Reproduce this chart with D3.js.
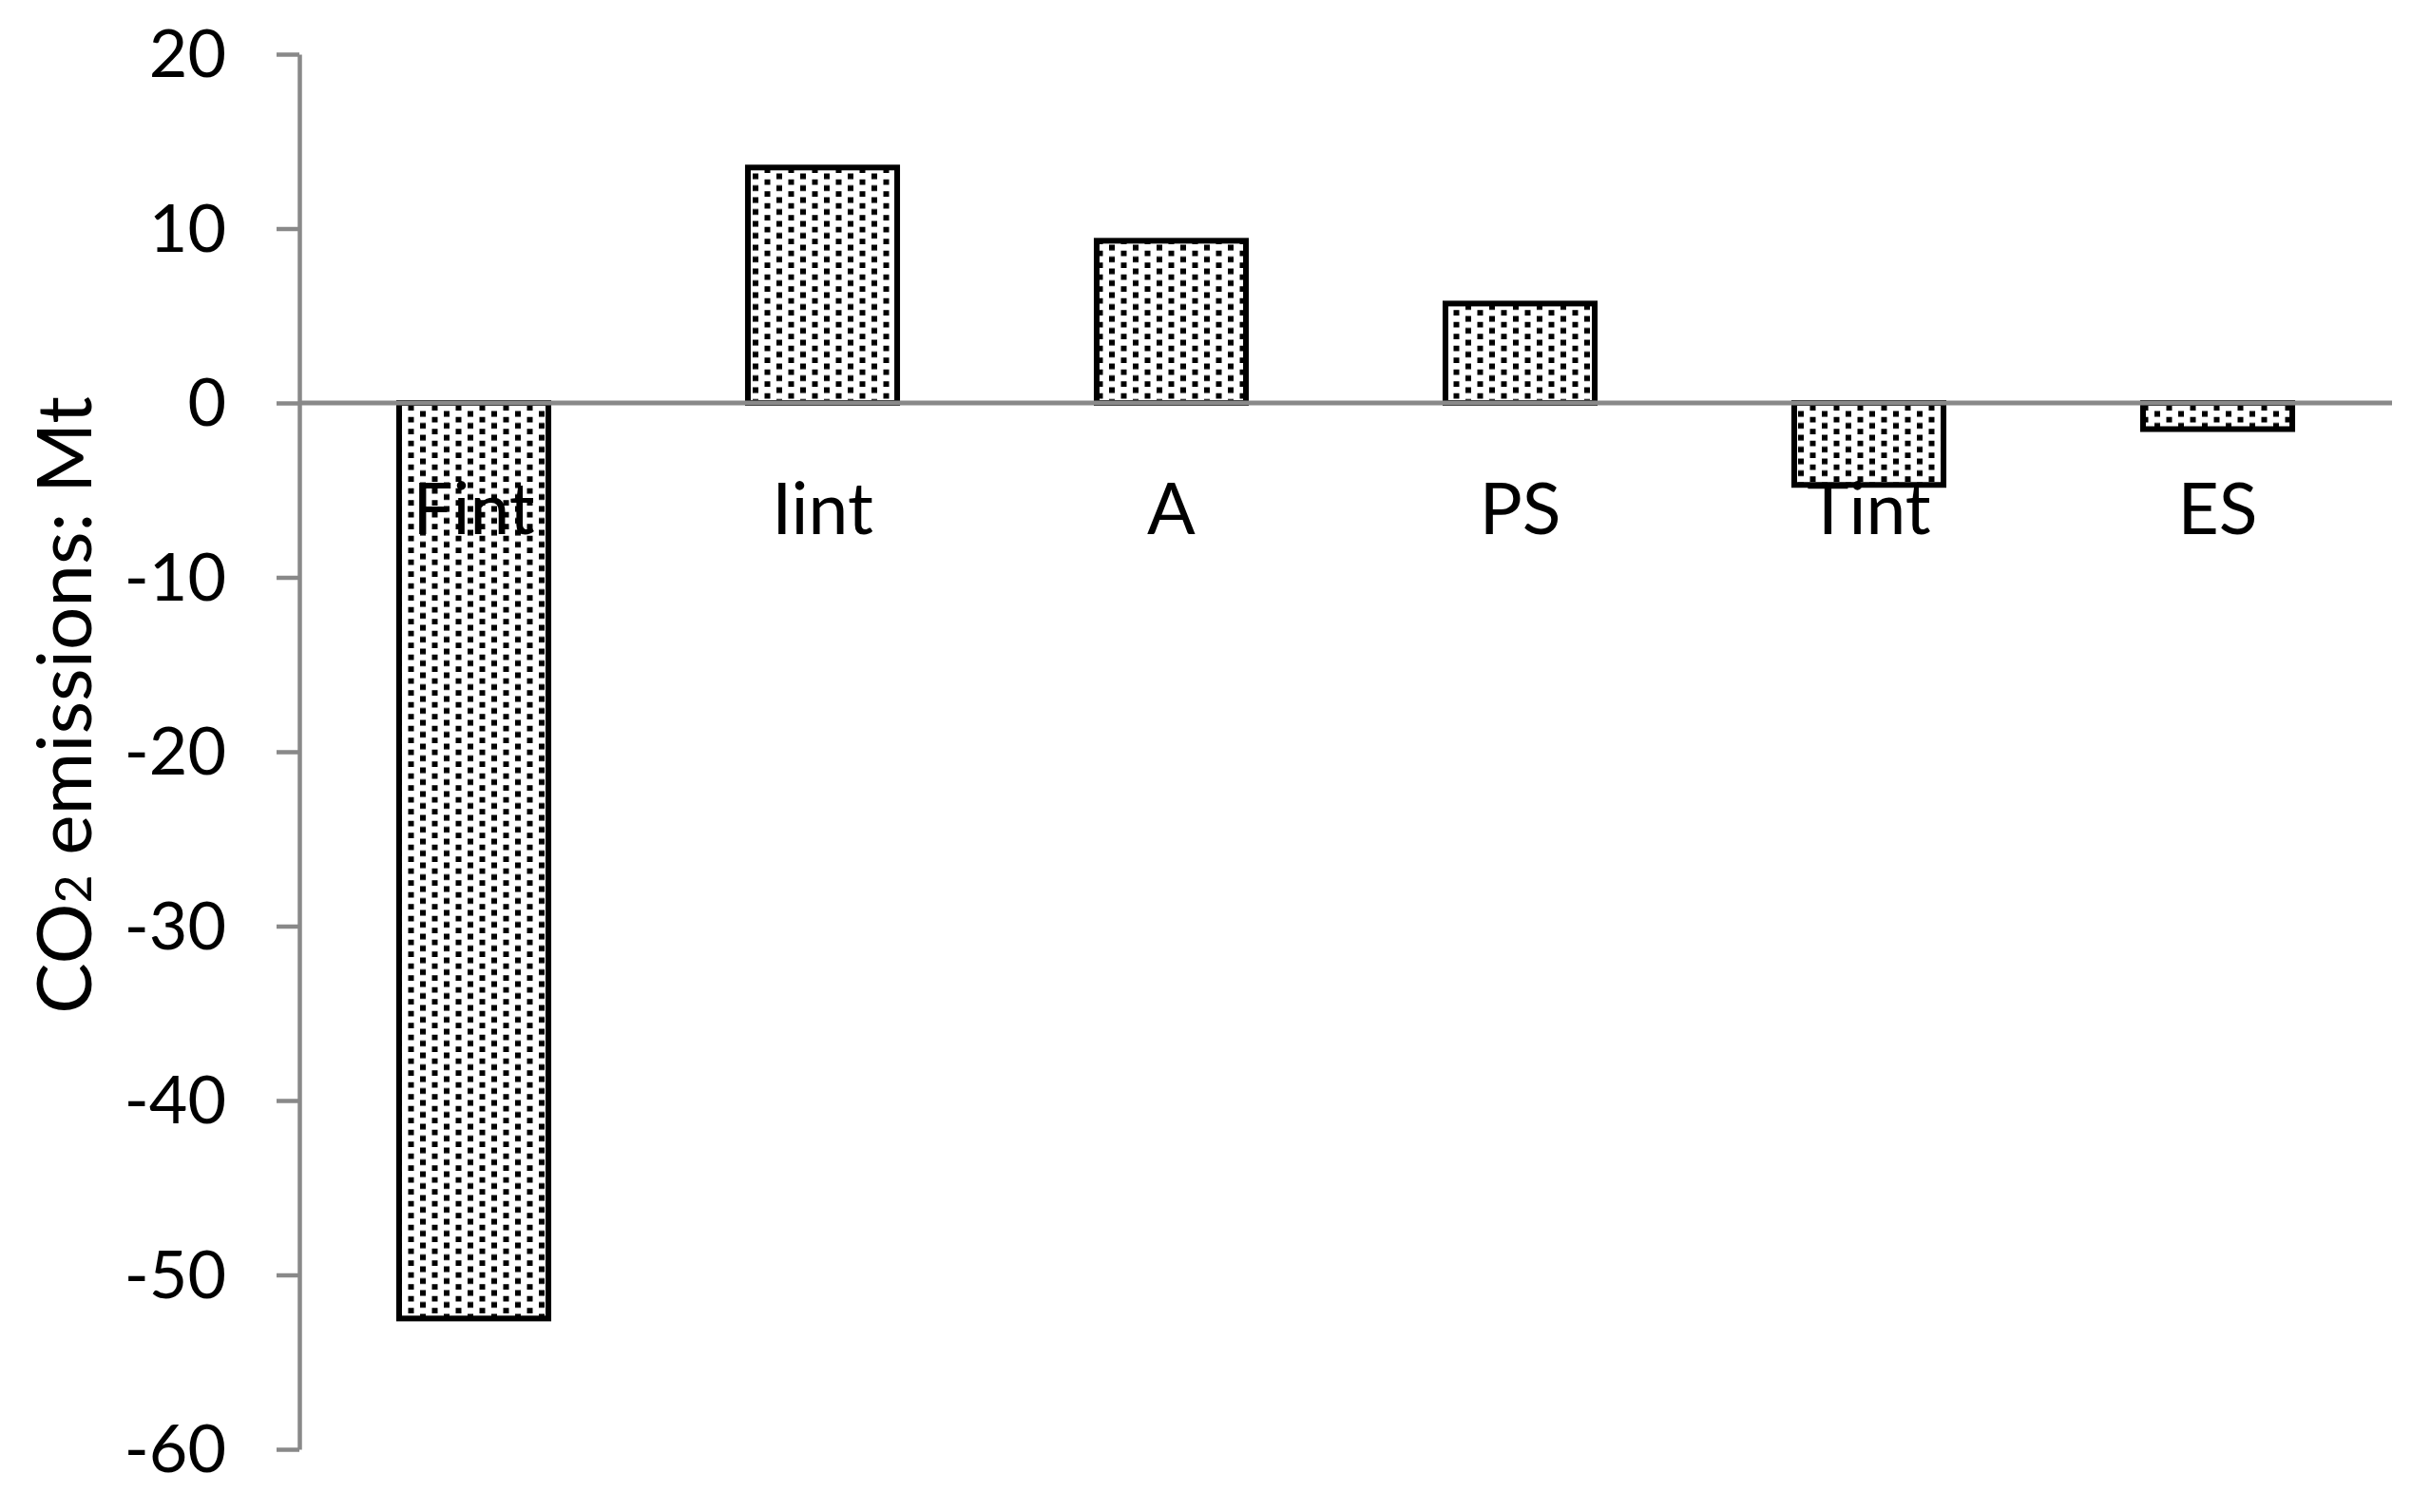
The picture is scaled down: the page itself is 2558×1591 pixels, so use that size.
<!DOCTYPE html>
<html>
<head>
  <meta charset="utf-8">
  <script src="https://d3js.org/d3.v7.min.js"></script>
  <style>
    body { margin: 0; background: #fff; }
    .axis--y text, .cat-label, .y-title {
      fill: #000;
      font-family: Lato, "Open Sans", sans-serif;
    }
    .axis--y text { font-size: 70px; }
    .cat-label { font-size: 75px; }
    .y-title { font-size: 80px; }
    .axis--y path, .axis--y line, .zero-line {
      stroke: #898989;
    }
    .bar {
      fill: url(#dots);
      stroke: #000;
      stroke-width: 6;
    }
  </style>
</head>
<body>
  <svg id="chart"></svg>
  <script>
    var categories = ["Fint", "Iint", "A", "PS", "Tint", "ES"];
    var values = [-52.5, 13.5, 9.3, 5.7, -4.7, -1.5];
    var yTicks = [20, 10, 0, -10, -20, -30, -40, -50, -60];

    var W = 2558, H = 1591;
    var margin = { top: 57, right: 41, bottom: 66, left: 315 };
    var width = W - margin.left - margin.right;
    var height = H - margin.top - margin.bottom;

    var root = d3.select("#chart")
      .attr("width", W)
      .attr("height", H);

    // dotted fill like the excel pattern
    var pat = root.append("defs").append("pattern")
      .attr("id", "dots")
      .attr("patternUnits", "userSpaceOnUse")
      .attr("width", 25)
      .attr("height", 12.5);
    pat.append("rect").attr("width", 25).attr("height", 12.5).attr("fill", "#fff");
    pat.append("rect").attr("x", 2).attr("y", 0.5).attr("width", 6).attr("height", 6).attr("fill", "#000");
    pat.append("rect").attr("x", 14.5).attr("y", 6.75).attr("width", 6).attr("height", 6).attr("fill", "#000");

    var svg = root.append("g")
      .attr("transform", "translate(" + margin.left + "," + margin.top + ")");

    var x = d3.scaleBand()
      .domain(categories)
      .range([0, width])
      .paddingInner(0.572)
      .paddingOuter(0.286);

    var y = d3.scaleLinear()
      .domain([-60, 20])
      .range([height, 0]);

    svg.selectAll(".bar")
      .data(values)
      .enter().append("rect")
      .attr("class", "bar")
      .attr("x", function(d, i) { return x(categories[i]); })
      .attr("width", x.bandwidth())
      .attr("y", function(d) { return y(Math.max(0, d)); })
      .attr("height", function(d) { return Math.abs(y(d) - y(0)); });

    var yAxis = svg.append("g")
      .attr("class", "axis axis--y")
      .call(d3.axisLeft(y)
        .tickValues(yTicks)
        .tickFormat(function(d) { return String(d); })
        .tickSize(24)
        .tickSizeOuter(0)
        .tickPadding(53));
    yAxis.select(".domain").attr("stroke-width", 4.5);
    yAxis.selectAll("line").attr("stroke-width", 4.5);
    yAxis.selectAll("text").attr("dy", "0.34em");

    svg.append("line")
      .attr("class", "zero-line")
      .attr("x1", 0)
      .attr("x2", width)
      .attr("y1", y(0))
      .attr("y2", y(0))
      .attr("stroke-width", 5);

    svg.selectAll(".cat-label")
      .data(categories)
      .enter().append("text")
      .attr("class", "cat-label")
      .attr("text-anchor", "middle")
      .attr("x", function(d) { return x(d) + x.bandwidth() / 2; })
      .attr("y", y(0) + 138)
      .text(function(d) { return d; });

    var title = svg.append("text")
      .attr("class", "y-title")
      .attr("text-anchor", "middle")
      .attr("transform", "translate(" + (96 - margin.left) + "," + (742 - margin.top) + ") rotate(-90)");
    title.append("tspan").text("CO");
    title.append("tspan").attr("font-size", "52px").text("2");
    title.append("tspan").text(" emissions: Mt");
  </script>
</body>
</html>
